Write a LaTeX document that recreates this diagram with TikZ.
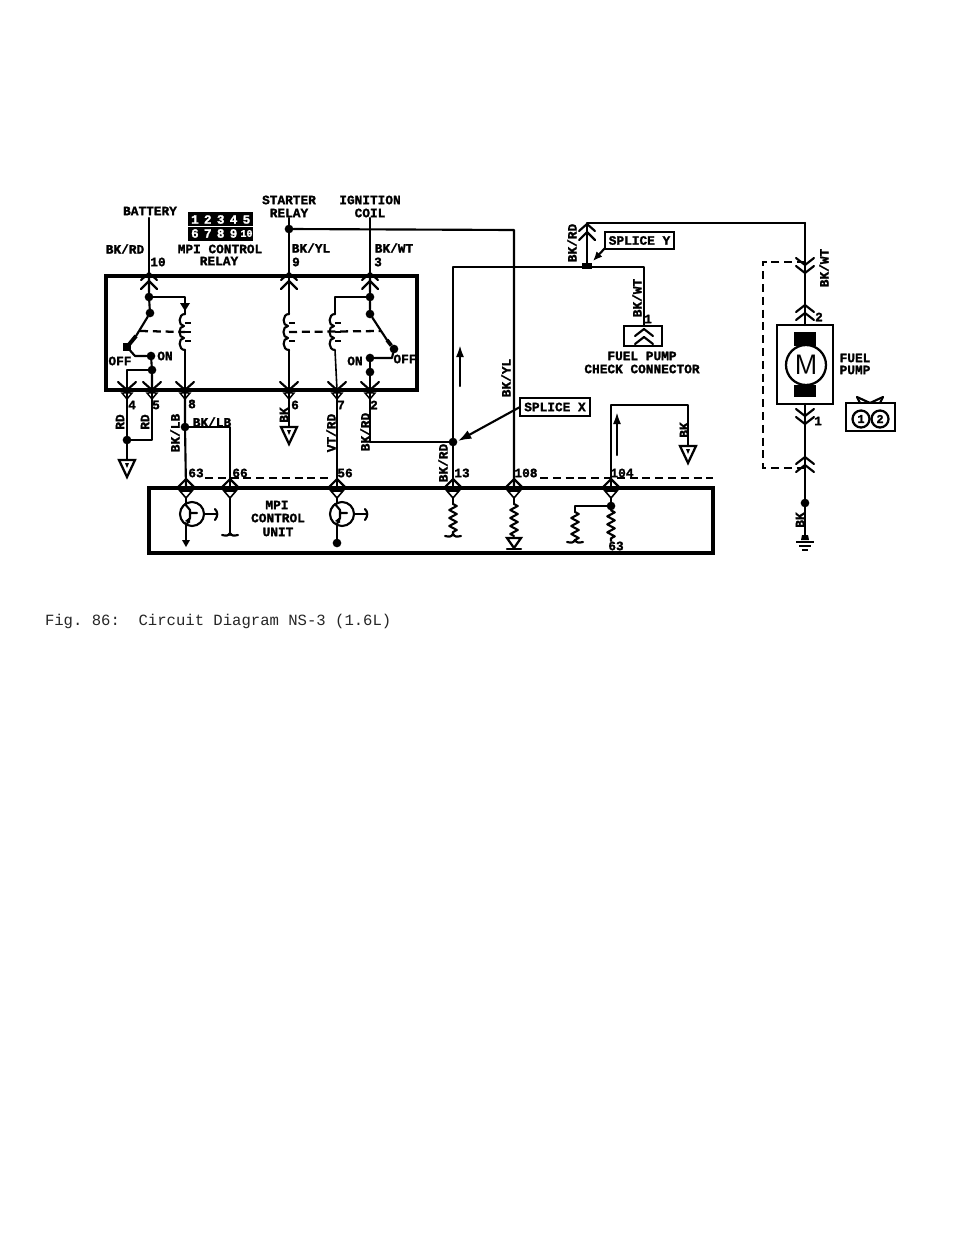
\documentclass[tikz,border=0pt]{standalone}
\usepackage{fontspec}
\setmonofont[BoldFeatures={FakeBold=1.6}]{Liberation Mono}
\usetikzlibrary{decorations.pathmorphing,arrows.meta,calc}
\tikzset{
  x=0.75pt,y=-0.75pt,
  every node/.append style={outer sep=0pt},
  wire/.style={line width=1.6pt,line cap=round,line join=round},
  thin wire/.style={line width=1.2pt},
  heavy/.style={line width=2.3pt,line join=miter},
  dashwire/.style={line width=1.7pt,dash pattern=on 6pt off 3.6pt},
  lbl/.style={font=\ttfamily\bfseries\fontsize{9.6}{10}\selectfont,inner sep=0pt,text=black},
  rlbl/.style={lbl,rotate=90},
  dot/.style={circle,fill=black,inner sep=0pt,minimum size=6.5pt},
  zig/.style={wire,decorate,decoration={zigzag,amplitude=2.8pt,segment length=6pt}},
  tagbox/.style={draw=black,line width=1.7pt,fill=white,inner sep=0pt,font=\ttfamily\bfseries\fontsize{9.6}{10}\selectfont},
  chevU/.pic={\draw[wire] (-8,4)--(0,-3)--(8,4);\draw[wire] (-8,13)--(0,5)--(8,13);},
  chevD/.pic={\draw[wire] (-9,-8)--(0,0)--(9,-8);\draw[wire] (-6,-1)--(0,4)--(6,-1);\draw[line width=1.1pt,fill=white] (-5,3)--(5,3)--(0,9)--cycle;},
  chevUb/.pic={\draw[wire] (-8,6)--(0,-2)--(8,6);\draw[line width=1.2pt,fill=white] (-6,10)--(6,10)--(0,17)--cycle;},
  dchev/.pic={\draw[wire] (-9,-7)--(0,0)--(9,-7);\draw[wire] (-9,1)--(0,8)--(9,1);},
  uchev/.pic={\draw[wire] (-9,7)--(0,0)--(9,7);\draw[wire] (-9,15)--(0,8)--(9,15);},
  gndtri/.pic={\draw[line width=1.7pt,fill=white,line join=miter] (-8,0)--(8,0)--(0,17)--cycle;\fill (-2,3)--(2,3)--(0,8)--cycle;},
  relaycoil/.pic={\draw[wire] (0,-18) .. controls (-7,-18) and (-7,-6) .. (-1,-6) .. controls (-7,-6) and (-7,6) .. (-1,6) .. controls (-7,6) and (-7,18) .. (0,18);
     \draw[line width=2.2pt] (0,-9)--(6,-9) (0,0)--(6,0) (0,9)--(6,9);},
  foot/.pic={\draw[wire] (-8,0) .. controls (-3,1) and (-2,1) .. (0,-2) .. controls (2,1) and (3,1) .. (8,0);},
  transistor/.pic={\draw[wire] (0,0) circle[radius=12];
     \draw[wire] (-7,-10)--(-2,-4)--(-2,4)--(-5,10) (-2,-1)--(5,-1);
     \fill (-7,7)--(-2,3)--(-2,9)--cycle;
     \draw[wire] (12,0)--(24,0);\draw[wire] (23,-5) .. controls (26,-2) and (26,2) .. (23,6);}
}
\begin{document}
\begin{tikzpicture}
\useasboundingbox (0,0) rectangle (960,1242);
\fill[white] (0,0) rectangle (960,1242);

% ---------- named points
\coordinate (bat) at (149,218);
\coordinate (t10) at (149,276);
\coordinate (sr) at (289,218);
\coordinate (t9) at (289,276);
\coordinate (ig) at (370,218);
\coordinate (t3) at (370,276);
\coordinate (b4) at (127,390);
\coordinate (b5) at (152,390);
\coordinate (b8) at (185,390);
\coordinate (b6) at (289,390);
\coordinate (b7) at (337,390);
\coordinate (b2) at (370,390);
\coordinate (u63) at (186,488);
\coordinate (u66) at (230,488);
\coordinate (u56) at (337,488);
\coordinate (u13) at (453,488);
\coordinate (u108) at (514,488);
\coordinate (u104) at (611,488);

% ---------- boxes
\node[draw=black,heavy,minimum width=311*0.75pt,minimum height=114*0.75pt,inner sep=0pt,anchor=north west] (relaybox) at (106,276) {};
\node[draw=black,heavy,minimum width=564*0.75pt,minimum height=65*0.75pt,inner sep=0pt,anchor=north west] (ecubox) at (149,488) {};

% ---------- top labels
\node[lbl] (lbat) at (150,211) {BATTERY};
\node[lbl] (lst1) at (289,200) {STARTER};
\node[lbl] (lst2) at (289,213) {RELAY};
\node[lbl] (lig1) at (370,200) {IGNITION};
\node[lbl] (lig2) at (370,213) {COIL};
\node[lbl] (lw10) at (125,249) {BK/RD};
\node[lbl] (ln10) at (158,262) {10};
\node[lbl] (lmc1) at (220,249) {MPI CONTROL};
\node[lbl] (lmc2) at (219,261) {RELAY};
\node[lbl] (lw9) at (311,248) {BK/YL};
\node[lbl] (ln9) at (296,262) {9};
\node[lbl] (lw3) at (394,248) {BK/WT};
\node[lbl] (ln3) at (378,262) {3};

% ---------- relay connector view
\node[fill=black,minimum width=65*0.75pt,minimum height=29*0.75pt,inner sep=0pt,anchor=north west] (grid) at (188,212) {};
\foreach \t [count=\i] in {1,2,3,4,5}
  \node[font=\ttfamily\bfseries\fontsize{9.5}{10}\selectfont,text=white,inner sep=0pt] (ga\i) at (188+12.9*\i-6,219.5) {\t};
\foreach \t [count=\i] in {6,7,8,9}
  \node[font=\ttfamily\bfseries\fontsize{9.5}{10}\selectfont,text=white,inner sep=0pt] (gb\i) at (188+12.9*\i-6,233.5) {\t};
\node[font=\ttfamily\bfseries\fontsize{7.5}{8}\selectfont,text=white,inner sep=0pt] (gb5) at (188+12.9*5-6,233.5) {10};
\draw[white,line width=0.7pt] (188,226.5)--(253,226.5);

% ---------- supply wires
\draw[wire] (bat)--(t10);
\draw[wire] (sr)--(t9);
\draw[wire] (ig)--(t3);
\pic at (t10) {chevU};
\pic at (t9) {chevU};
\pic at (t3) {chevU};
\node[dot] (js) at (289,229) {};
\coordinate (sc) at (514,230);
\draw[wire] (js)--(sc)--(u108);

% ---------- left switch
\node[dot] (l1) at (149,297) {};
\node[dot] (l2) at (150,313) {};
\node[dot] (lon) at (151,356) {};
\node[dot] (lj) at (152,370) {};
\coordinate (lsw) at (127,347);
\coordinate (lmid) at (136,336);
\node[fill=black,minimum size=5.5pt,inner sep=0pt] (loff) at (lsw) {};
\draw[wire] (t10)--(l1)--(l2)--(lmid);
\draw[line width=3pt] (lmid)--(lsw);
\draw[wire] (lsw)--(135,356)--(lon);
\draw[wire] (lon)--(lj)--(b5);
\draw[wire] (lj)--(127,370)--(b4);
\node[lbl] (loffl) at (120,361) {OFF};
\node[lbl] (lonl) at (165,356) {ON};
% left coil with diode
\coordinate (lc) at (185,332);
\draw[wire] (l1)--(185,297)--(185,314);
\fill (180,303)--(190,303)--(185,311)--cycle;
\pic at (lc) {relaycoil};
\draw[wire] (185,350)--(b8);
\draw[dashwire] (140,331)--(lc);

% ---------- centre coil
\coordinate (mc) at (289,332);
\draw[wire] (t9)--(289,314);
\draw[wire] (289,350)--(b6);
\pic at (mc) {relaycoil};
\draw[dashwire] (mc)--(381,331);

% ---------- right coil & switch
\node[dot] (r1) at (370,297) {};
\node[dot] (r2) at (370,314) {};
\node[dot] (ron) at (370,358) {};
\node[dot] (rj) at (370,372) {};
\coordinate (rc) at (335,332);
\coordinate (rmid) at (387,340);
\node[circle,fill=black,minimum size=6.5pt,inner sep=0pt] (roff) at (394,349) {};
\draw[wire] (t3)--(r1)--(r2)--(rmid);
\draw[line width=2.8pt] (rmid)--(roff);
\draw[wire] (r1)--(335,297)--(335,314);
\pic at (rc) {relaycoil};
\draw[thin wire] (335,350)--(b7);
\draw[wire] (roff)--(392,358)--(ron);
\draw[wire] (ron)--(rj)--(b2);
\node[lbl] (ronl) at (355,361) {ON};
\node[lbl] (roffl) at (405,359) {OFF};

% ---------- bottom relay connectors
\foreach \c in {b4,b5,b8,b6,b7,b2} \pic at (\c) {chevD};
\node[lbl] (n4) at (132,405) {4};
\node[lbl] (n5) at (156,405) {5};
\node[lbl] (n8) at (192,404) {8};
\node[lbl] (n6) at (295,405) {6};
\node[lbl] (n7) at (341,405) {7};
\node[lbl] (n2) at (374,405) {2};

% ---------- wires below relay
\node[dot] (gj) at (127,440) {};
\coordinate (g1) at (127,460);
\draw[wire] (b4)--(gj)--(g1);
\draw[wire] (b5)--(152,440)--(gj);
\pic at (g1) {gndtri};
\node[rlbl] (lrd1) at (120,422) {RD};
\node[rlbl] (lrd2) at (145,422) {RD};
\coordinate (g6) at (289,427);
\draw[wire] (b6)--(g6);
\pic at (g6) {gndtri};
\node[rlbl] (lbk6) at (284,415) {BK};
\node[dot] (j8) at (185,427) {};
\coordinate (c66) at (230,427);
\draw[wire] (b8)--(j8)--(u63);
\draw[wire] (j8)--(c66)--(u66);
\node[rlbl] (lbl1) at (175,433) {BK/LB};
\node[lbl] (lbl2) at (212,422) {BK/LB};
\draw[wire] (b7)--(u56);
\node[rlbl] (lvt) at (331,433) {VT/RD};
\node[dot] (jx) at (453,442) {};
\draw[wire] (b2)--(370,442)--(jx);
\node[rlbl] (lrd3) at (365,432) {BK/RD};

% ---------- splice wires
\coordinate (hl) at (453,267);
\coordinate (hr) at (644,267);
\node[fill=black,minimum width=7pt,minimum height=4pt,inner sep=0pt] (jy) at (587,266) {};
\coordinate (tp) at (587,223);
\coordinate (tr) at (805,223);
\coordinate (fctop) at (644,326);
\draw[wire] (u13)--(jx)--(hl)--(hr)--(fctop);
\draw[wire] (jy)--(tp)--(tr);
\pic at (587,227) {chevU};
\node[rlbl] (lrd4) at (572,243) {BK/RD};
\node[rlbl] (lyl) at (506,378) {BK/YL};
\node[rlbl] (lrd5) at (443,463) {BK/RD};
\node[rlbl] (lwt1) at (637,298) {BK/WT};
\node[lbl] (n1f) at (648,319) {1};
\draw[wire,-{Latex[length=9pt,width=6pt]}] (460,386)--(460,345);
\node[tagbox,minimum width=69*0.75pt,minimum height=17*0.75pt] (spy) at (639.5,240.5) {SPLICE Y};
\draw[wire,-{Latex[length=7pt,width=6pt]}] (605,248)--(593,261);
\node[tagbox,minimum width=70*0.75pt,minimum height=18*0.75pt] (spx) at (555,407) {SPLICE X};
\draw[wire,-{Latex[length=10pt,width=7pt]}] (spx.west)--(458,441);

% ---------- check connector
\node[draw=black,line width=1.7pt,minimum width=38*0.75pt,minimum height=20*0.75pt,inner sep=0pt,anchor=north west] (fcbox) at (624,326) {};
\pic at (644,329) {uchev};
\node[lbl] (lfc1) at (642,356) {FUEL PUMP};
\node[lbl] (lfc2) at (642,369) {CHECK CONNECTOR};

% ---------- ECU connectors
\draw[dashwire] (205,478)--(330,478);
\draw[dashwire] (540,478)--(713,478);
\foreach \c in {u63,u66,u56,u13,u108,u104} \pic at ($(\c)+(0,-7)$) {chevUb};
\node[lbl] (n63) at (196,473) {63};
\node[lbl] (n66) at (240,473) {66};
\node[lbl] (n56) at (345,473) {56};
\node[lbl] (n13) at (462,473) {13};
\node[lbl] (n108) at (526,473) {108};
\node[lbl] (n104) at (622,473) {104};

% ---------- ECU inside
\node[lbl] (lu1) at (277,505) {MPI};
\node[lbl] (lu2) at (278,518) {CONTROL};
\node[lbl] (lu3) at (278,532) {UNIT};
\coordinate (e63) at (186,540);
\coordinate (e56) at (337,541);
\draw[wire] (186,498)--(e63);
\fill (182,540)--(190,540)--(186,547)--cycle;
\node[fill=white,circle,inner sep=0pt,minimum size=16pt] (q1) at (192,514) {};
\pic at (192,514) {transistor};
\draw[wire] (337,498)--(e56);
\node[dot] (e56d) at (337,543) {};
\node[fill=white,circle,inner sep=0pt,minimum size=16pt] (q2) at (342,514) {};
\pic at (342,514) {transistor};
\coordinate (f66) at (230,535);
\draw[wire] (230,498)--(f66);
\pic at (f66) {foot};
% resistors
\draw[wire] (453,498)--(453,504);
\draw[zig] (453,504)--(453,534);
\pic at (453,536) {foot};
\draw[wire] (514,498)--(514,504);
\draw[zig] (514,504)--(514,536);
\draw[line width=1.7pt,fill=white] (507,538)--(521,538)--(514,548)--cycle;
\draw[wire] (507,549)--(521,549);
\node[dot] (j104) at (611,506) {};
\draw[wire] (611,498)--(j104)--(575,506)--(575,512);
\draw[zig] (575,512)--(575,541);
\pic at (575,542) {foot};
\draw[zig] (j104)--(611,541);
\node[lbl] (n63b) at (616,546) {63};

% ---------- wire 104 to ground
\coordinate (a1) at (611,405);
\coordinate (a2) at (688,405);
\coordinate (g2) at (688,446);
\draw[wire] (u104)--(a1)--(a2)--(g2);
\pic at (g2) {gndtri};
\node[rlbl] (lbkg) at (684,430) {BK};
\draw[wire,-{Latex[length=9pt,width=6pt]}] (617,455)--(617,412);

% ---------- fuel pump
\node[draw=black,line width=1.7pt,minimum width=56*0.75pt,minimum height=79*0.75pt,inner sep=0pt,anchor=north west] (pump) at (777,325) {};
\fill (794,332) rectangle (816,346);
\fill (794,385) rectangle (816,397);
\node[draw=black,fill=white,line width=1.7pt,circle,minimum size=40*0.75pt,inner sep=0pt,font=\sffamily\fontsize{21}{21}\selectfont] (motor) at (806,365) {M};
\coordinate (pt) at (805,325);
\draw[wire] (tr)--(pt);
\pic at (805,265) {dchev};
\pic at (805,305) {uchev};
\coordinate (dt) at (805,262);
\coordinate (db) at (805,468);
\draw[dashwire] (dt)--(763,262)--(763,468)--(db);
\node[rlbl] (lwt2) at (824,268) {BK/WT};
\node[lbl] (n2p) at (819,317) {2};
\node[lbl] (n1p) at (818,421) {1};
\coordinate (gp) at (805,540);
\node[dot] (jp) at (805,503) {};
\draw[wire] (pump.south-|gp)--(jp);
\draw[thin wire] (jp)--(gp);
\pic at (805,416) {dchev};
\pic at (805,457) {uchev};
\node[rlbl] (lbkp) at (800,520) {BK};
\fill (801,540) -- (809,540) -- (808,535)--(802,535)--cycle;
\draw[line width=1.5pt] (796,542)--(814,542) (799,546)--(811,546) (802,550)--(808,550);
\node[lbl] (lp1) at (855,358) {FUEL};
\node[lbl] (lp2) at (855,370) {PUMP};
% pump connector view
\node[draw=black,line width=1.7pt,minimum width=49*0.75pt,minimum height=28*0.75pt,inner sep=0pt,anchor=north west] (pc) at (846,403) {};
\node[draw=black,line width=1.7pt,circle,minimum size=17*0.75pt,inner sep=0pt,font=\ttfamily\bfseries\fontsize{9}{9}\selectfont] (pc1) at (861,419) {1};
\node[draw=black,line width=1.7pt,circle,minimum size=17*0.75pt,inner sep=0pt,font=\ttfamily\bfseries\fontsize{9}{9}\selectfont] (pc2) at (880,419) {2};
\draw[wire] (857,397)--(870,403)--(883,397);
\draw[wire] (857,397)--(860,403) (883,397)--(880,403);

% ---------- caption
\node[anchor=west,inner sep=0pt,font=\ttfamily\fontsize{11.7}{12}\selectfont,text=black!85] (cap) at (45,621) {Fig. 86:~~Circuit Diagram NS-3 (1.6L)};
\end{tikzpicture}
\end{document}
